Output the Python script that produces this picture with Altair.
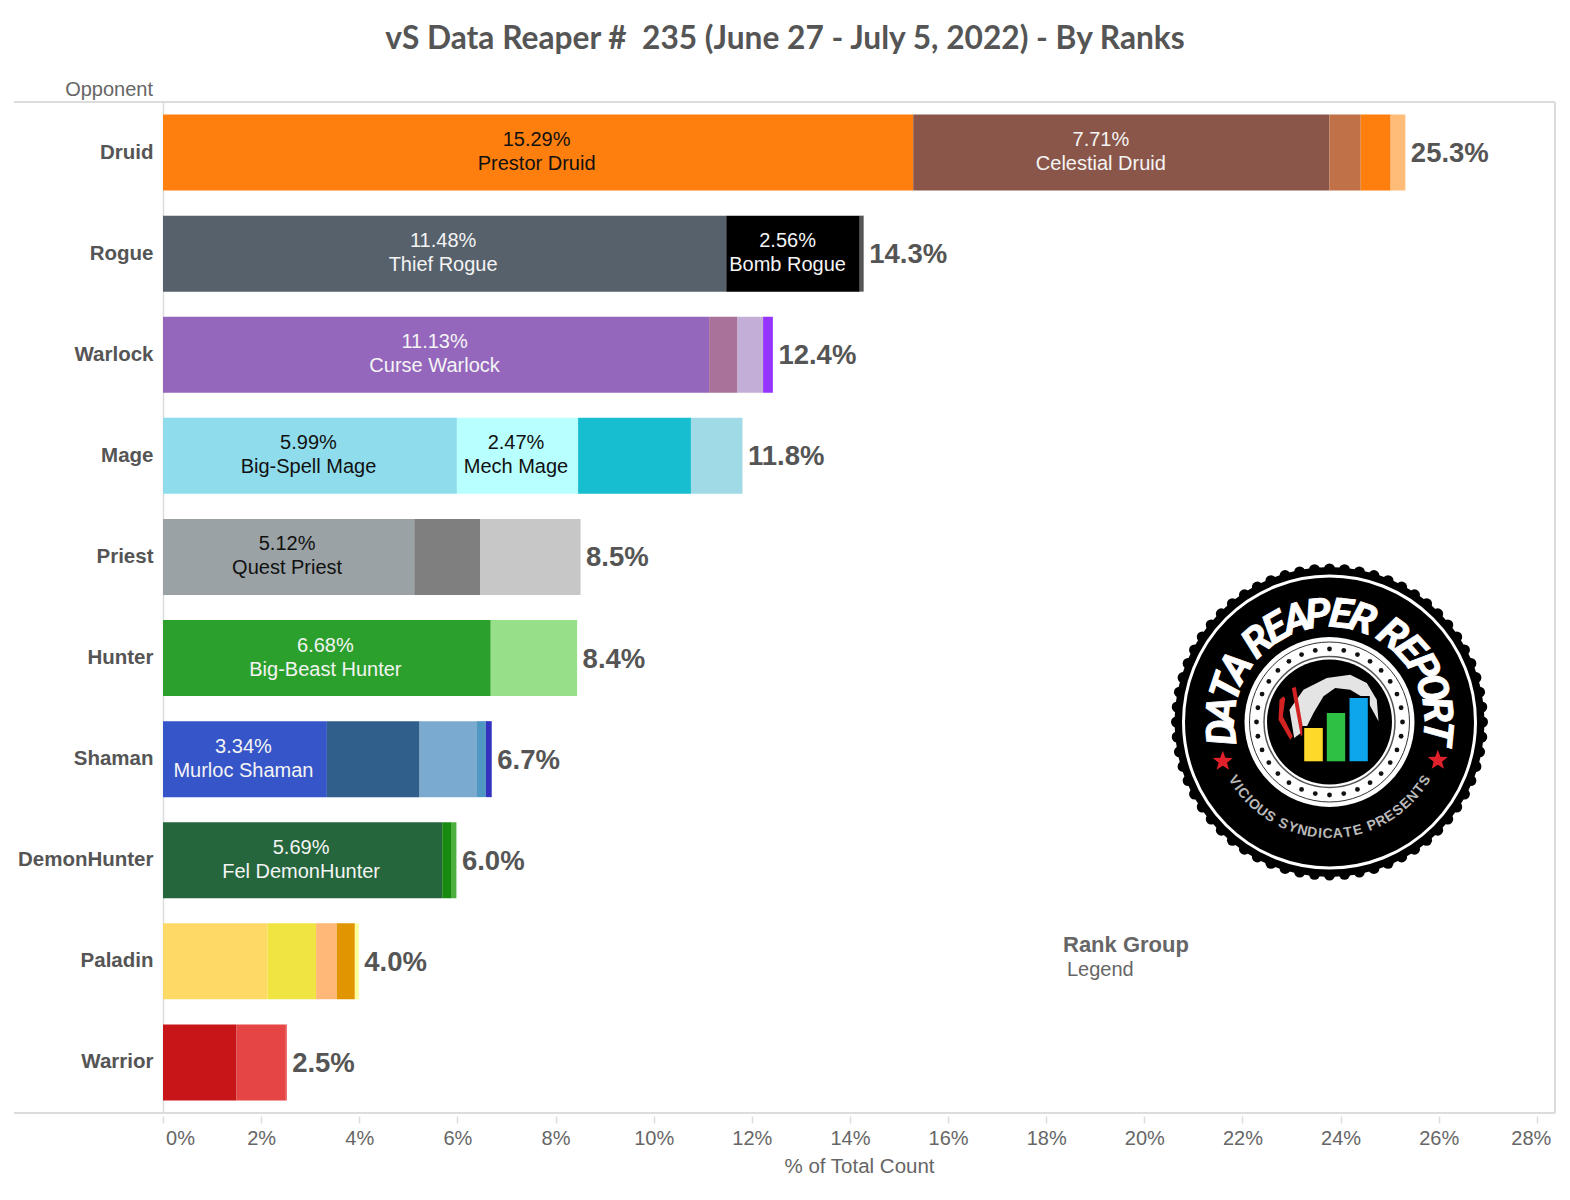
import math
import altair as alt
import pandas as pd

TITLE = "vS Data Reaper #\u00a0 235 (June 27 - July 5, 2022) - By Ranks"
classes = ["Druid", "Rogue", "Warlock", "Mage", "Priest", "Hunter", "Shaman", "DemonHunter", "Paladin", "Warrior"]
totals = ["25.3%", "14.3%", "12.4%", "11.8%", "8.5%", "8.4%", "6.7%", "6.0%", "4.0%", "2.5%"]
widths = {
    "Druid": [15.29, 7.71, 0.77, 0.64, 0.61, 0.30],
    "Rogue": [11.48, 2.56, 0.16, 0.08],
    "Warlock": [11.13, 0.58, 0.52, 0.20],
    "Mage": [5.99, 2.47, 2.30, 1.05],
    "Priest": [5.12, 1.35, 2.04],
    "Hunter": [6.68, 1.76],
    "Shaman": [3.34, 1.89, 1.17, 0.18, 0.12],
    "DemonHunter": [5.69, 0.18, 0.11],
    "Paladin": [2.13, 0.99, 0.42, 0.37, 0.08],
    "Warrior": [1.50, 1.00, 0.02],
}
colors = {
    "Druid": ["#ff7f0e", "#8a5649", "#8a5649", "#c17148", "#ff7f0e", "#ffbb78"],
    "Rogue": ["#56616b", "#000000", "#000000", "#555555"],
    "Warlock": ["#9467bd", "#a9729a", "#c2aed6", "#9634ff"],
    "Mage": ["#8fdcec", "#b8ffff", "#17becf", "#a0dae6"],
    "Priest": ["#9aa2a5", "#7f7f7f", "#c7c7c7"],
    "Hunter": ["#2ca02c", "#98df8a"],
    "Shaman": ["#3555c8", "#315f8c", "#7aaad0", "#5098c4", "#3333c0"],
    "DemonHunter": ["#25663c", "#178a0f", "#4caf3f"],
    "Paladin": ["#ffd966", "#f0e442", "#ffb877", "#e19500", "#ffff99"],
    "Warrior": ["#c71518", "#e64545", "#e02020"],
}
seg_names = {
    "Druid": ["Prestor Druid", "Celestial Druid"],
    "Rogue": ["Thief Rogue", "Bomb Rogue"],
    "Warlock": ["Curse Warlock"],
    "Mage": ["Big-Spell Mage", "Mech Mage"],
    "Priest": ["Quest Priest"],
    "Hunter": ["Big-Beast Hunter"],
    "Shaman": ["Murloc Shaman"],
    "DemonHunter": ["Fel DemonHunter"],
}
seg_ink = {
    "Druid": ["#111111", "#f4f4f4"],
    "Rogue": ["#f4f4f4", "#f4f4f4"],
    "Warlock": ["#f4f4f4"],
    "Mage": ["#111111", "#111111"],
    "Priest": ["#111111"],
    "Hunter": ["#f4f4f4"],
    "Shaman": ["#f4f4f4"],
    "DemonHunter": ["#f4f4f4"],
}
x_ticks = list(range(0, 29, 2))

PLOT_W, PLOT_H = 1392, 1011
X_MAX = 28.37
LEFT, TOP = 163, 102
SANS = "Liberation Sans"
GREY = "#555555"
LIGHT = "#666666"
RULE = "#dcdcdc"

rows, labels = [], []
for cls in classes:
    start = 0.0
    for i, (w, c) in enumerate(zip(widths[cls], colors[cls])):
        if rows and rows[-1]["cls"] == cls and rows[-1]["color"] == c:
            rows[-1]["end"] = start + w
        else:
            rows.append({"cls": cls, "start": start, "end": start + w, "color": c, "i": i})
        if i < len(seg_names.get(cls, [])):
            labels.append({"cls": cls, "mid": start + w / 2,
                           "text": f"{w:.2f}%\n{seg_names[cls][i]}", "ink": seg_ink[cls][i]})
        start += w
seg_df = pd.DataFrame(rows)
lab_df = pd.DataFrame(labels)
tot_df = pd.DataFrame({"cls": classes, "text": totals,
                       "end": [sum(widths[c]) for c in classes]})

x_scale = alt.Scale(domain=[0, X_MAX], nice=False, zero=True)
y_scale = alt.Scale(domain=classes, paddingInner=0, paddingOuter=0)
x_axis = alt.Axis(
    values=x_ticks, grid=False, domain=False, tickColor=RULE, tickSize=7, tickWidth=1.5, offset=3,
    labelExpr="datum.value + '%'", labelFont=SANS, labelFontSize=20, labelColor=LIGHT, labelPadding=5,
    labelOverlap=False, labelFlush=False,
    labelOffset={"condition": [{"test": "datum.value == 0", "value": 17},
                               {"test": "datum.value == 28", "value": -6}], "value": 0},
    title="% of Total Count", titleFont=SANS, titleFontSize=20.5, titleFontWeight="normal",
    titleColor=LIGHT, titlePadding=8,
)
y_axis = alt.Axis(
    title=None, ticks=False, grid=False, domainColor=RULE, domainWidth=1.5, labelFont=SANS,
    labelFontSize=20.5, labelFontWeight="bold", labelColor=GREY, labelPadding=10,
)

bars = alt.Chart(seg_df).mark_bar(size=76, stroke=None).encode(
    y=alt.Y("cls:N", scale=y_scale, axis=y_axis, sort=classes),
    x=alt.X("start:Q", scale=x_scale, axis=x_axis),
    x2="end:Q",
    color=alt.Color("color:N", scale=None),
    order=alt.Order("i:Q"),
)
seg_text = alt.Chart(lab_df).mark_text(
    font=SANS, fontSize=20, lineBreak="\n", lineHeight=24, align="center", baseline="middle", dy=-12.5, dx=-1.5
).encode(
    y=alt.Y("cls:N", scale=y_scale, sort=classes),
    x=alt.X("mid:Q", scale=x_scale),
    text="text:N",
    color=alt.Color("ink:N", scale=None),
)
tot_text = alt.Chart(tot_df).mark_text(
    font=SANS, fontSize=27.5, fontWeight="bold", color=GREY, align="left", baseline="middle", dx=5.5, dy=1.5
).encode(
    y=alt.Y("cls:N", scale=y_scale, sort=classes),
    x=alt.X("end:Q", scale=x_scale),
    text="text:N",
)


def frame(**kw):
    return alt.Chart(pd.DataFrame({"k": [0]})).mark_rule(color=RULE, strokeWidth=2).encode(**kw)


frames = [
    frame(x=alt.value(-149), x2=alt.value(PLOT_W), y=alt.value(0)),
    frame(x=alt.value(-149), x2=alt.value(PLOT_W), y=alt.value(PLOT_H)),
    frame(x=alt.value(PLOT_W), y=alt.value(0), y2=alt.value(PLOT_H)),
]


def note(text, x, y, size, weight="normal", color=LIGHT, align="left"):
    return alt.Chart(pd.DataFrame({"t": [text]})).mark_text(
        font=SANS, fontSize=size, fontWeight=weight, color=color, align=align, baseline="middle"
    ).encode(x=alt.value(x - LEFT), y=alt.value(y - TOP), text="t:N")


notes = [
    note("Opponent", 153, 90, 20, align="right"),
    note("Rank Group", 1063, 945, 22, "bold"),
    note("Legend", 1067, 970, 20),
]

# ---------- badge ----------
CX, CY = 1329.5 - LEFT, 722 - TOP


def px(df, mark, **extra):
    return alt.Chart(df).mark_point(**mark).encode(
        x=alt.X("x:Q", scale=None, axis=None), y=alt.Y("y:Q", scale=None, axis=None), **extra)


def disc(r, fill, ring=None, sw=0):
    kw = dict(shape="circle", size=4 * r * r, opacity=1)
    if ring:
        kw.update(filled=False, stroke=ring, strokeWidth=sw)
    else:
        kw.update(filled=True, fill=fill, strokeWidth=0)
    return px(pd.DataFrame({"x": [CX], "y": [CY]}), kw)


def ring_dots(r, n, dot, fill, phase=0.0):
    a = [2 * math.pi * (k + phase) / n for k in range(n)]
    df = pd.DataFrame({"x": [CX + r * math.cos(t) for t in a], "y": [CY + r * math.sin(t) for t in a]})
    return px(df, dict(shape="circle", size=4 * dot * dot, filled=True, fill=fill, strokeWidth=0, opacity=1))


def poly(points, fill):
    d = "M" + " L".join(f"{(p[0] - 538) / 300:.3f} {(p[1] - 517) / 300:.3f}" for p in points) + " Z"
    return px(pd.DataFrame({"x": [CX], "y": [CY]}),
              dict(shape=d, size=40000, filled=True, fill=fill, strokeWidth=0, opacity=1))


def star(zx, zy, r, fill):
    pts = []
    for k in range(10):
        t = -math.pi / 2 + k * math.pi / 5
        rr = r if k % 2 == 0 else r * 0.42
        pts.append((zx + rr * 3 * math.cos(t), zy + rr * 3 * math.sin(t)))
    return poly(pts, fill)


def box(x0, y0, x1, y1, fill):
    return poly([(x0, y0), (x1, y0), (x1, y1), (x0, y1)], fill)


def arc_text(text, r, span, top, font_size, color, weight, style, font=SANS, bold_px=0):
    wide = {" ": 0.5, "I": 0.55}
    w = [wide.get(c, 1.0) for c in text]
    total = sum(w)
    pos, out = 0.0, []
    for c, cw in zip(text, w):
        f = (pos + cw / 2) / total - 0.5
        pos += cw
        deg = f * span
        t = math.radians(deg)
        if top:
            out.append({"x": CX + r * math.sin(t), "y": CY - r * math.cos(t), "a": deg % 360, "c": c})
        else:
            out.append({"x": CX + r * math.sin(t), "y": CY + r * math.cos(t), "a": (-deg) % 360, "c": c})
    return alt.Chart(pd.DataFrame(out)).mark_text(
        font=font, fontSize=font_size, fontWeight=weight, fontStyle=style,
        color=color, align="center", baseline="middle", stroke=color, strokeWidth=bold_px
    ).encode(x=alt.X("x:Q", scale=None, axis=None), y=alt.Y("y:Q", scale=None, axis=None),
             angle=alt.Angle("a:Q", scale=None), text="c:N")


badge = [
    disc(155, "#000000"),
    ring_dots(153, 64, 5.5, "#000000"),
    disc(146, None, "#ffffff", 3),
    arc_text("DATA REAPER REPORT", 107, 203, True, 41, "#ffffff", "bold", "italic", font="Roboto", bold_px=0.8),
    arc_text("VICIOUS SYNDICATE PRESENTS", 112, 122, False, 14, "#b9b9b9", "bold", "normal"),
    star(218, 635, 10.5, "#e0202a"),
    star(863, 632, 10.5, "#e0202a"),
    disc(85, "#ffffff"),
    disc(80, None, "#333333", 1),
    ring_dots(73, 32, 2.4, "#111111"),
    disc(65.5, None, "#555555", 1.5),
    disc(62.5, "#000000"),
    poly([(432, 565), (418, 480), (460, 420), (530, 385), (600, 375), (650, 400), (680, 450), (685, 515),
          (650, 450), (600, 420), (555, 415), (520, 440), (490, 490), (465, 540)], "#e4e4e4"),
    poly([(388, 450), (400, 440), (405, 447), (398, 500), (428, 560), (420, 570), (385, 510)], "#d22222"),
    poly([(425, 415), (437, 412), (462, 555), (452, 558)], "#d22222"),
    box(456, 529, 524, 641, "#000000"),
    box(524, 484, 591, 641, "#000000"),
    box(591, 439, 659, 641, "#000000"),
    box(462, 535, 518, 635, "#ffd92a"),
    box(530, 490, 585, 635, "#2ebf45"),
    box(598, 445, 653, 635, "#0da6ec"),
]

chart = alt.layer(bars, seg_text, tot_text, *frames, *notes, *badge).properties(
    width=PLOT_W,
    height=PLOT_H,
    padding={"left": 155, "top": 94, "right": 5, "bottom": 70},
    autosize=alt.AutoSizeParams(type="none"),
    title=alt.TitleParams(
        text=TITLE, font="Lato", fontSize=31.7, fontWeight="bold", color=GREY, anchor="middle",
        dx=-74, offset=9, baseline="middle",
    ),
).configure_view(stroke=None).resolve_scale(x="shared")

chart.save("out.html", embed_options={"renderer": "svg", "actions": False})
